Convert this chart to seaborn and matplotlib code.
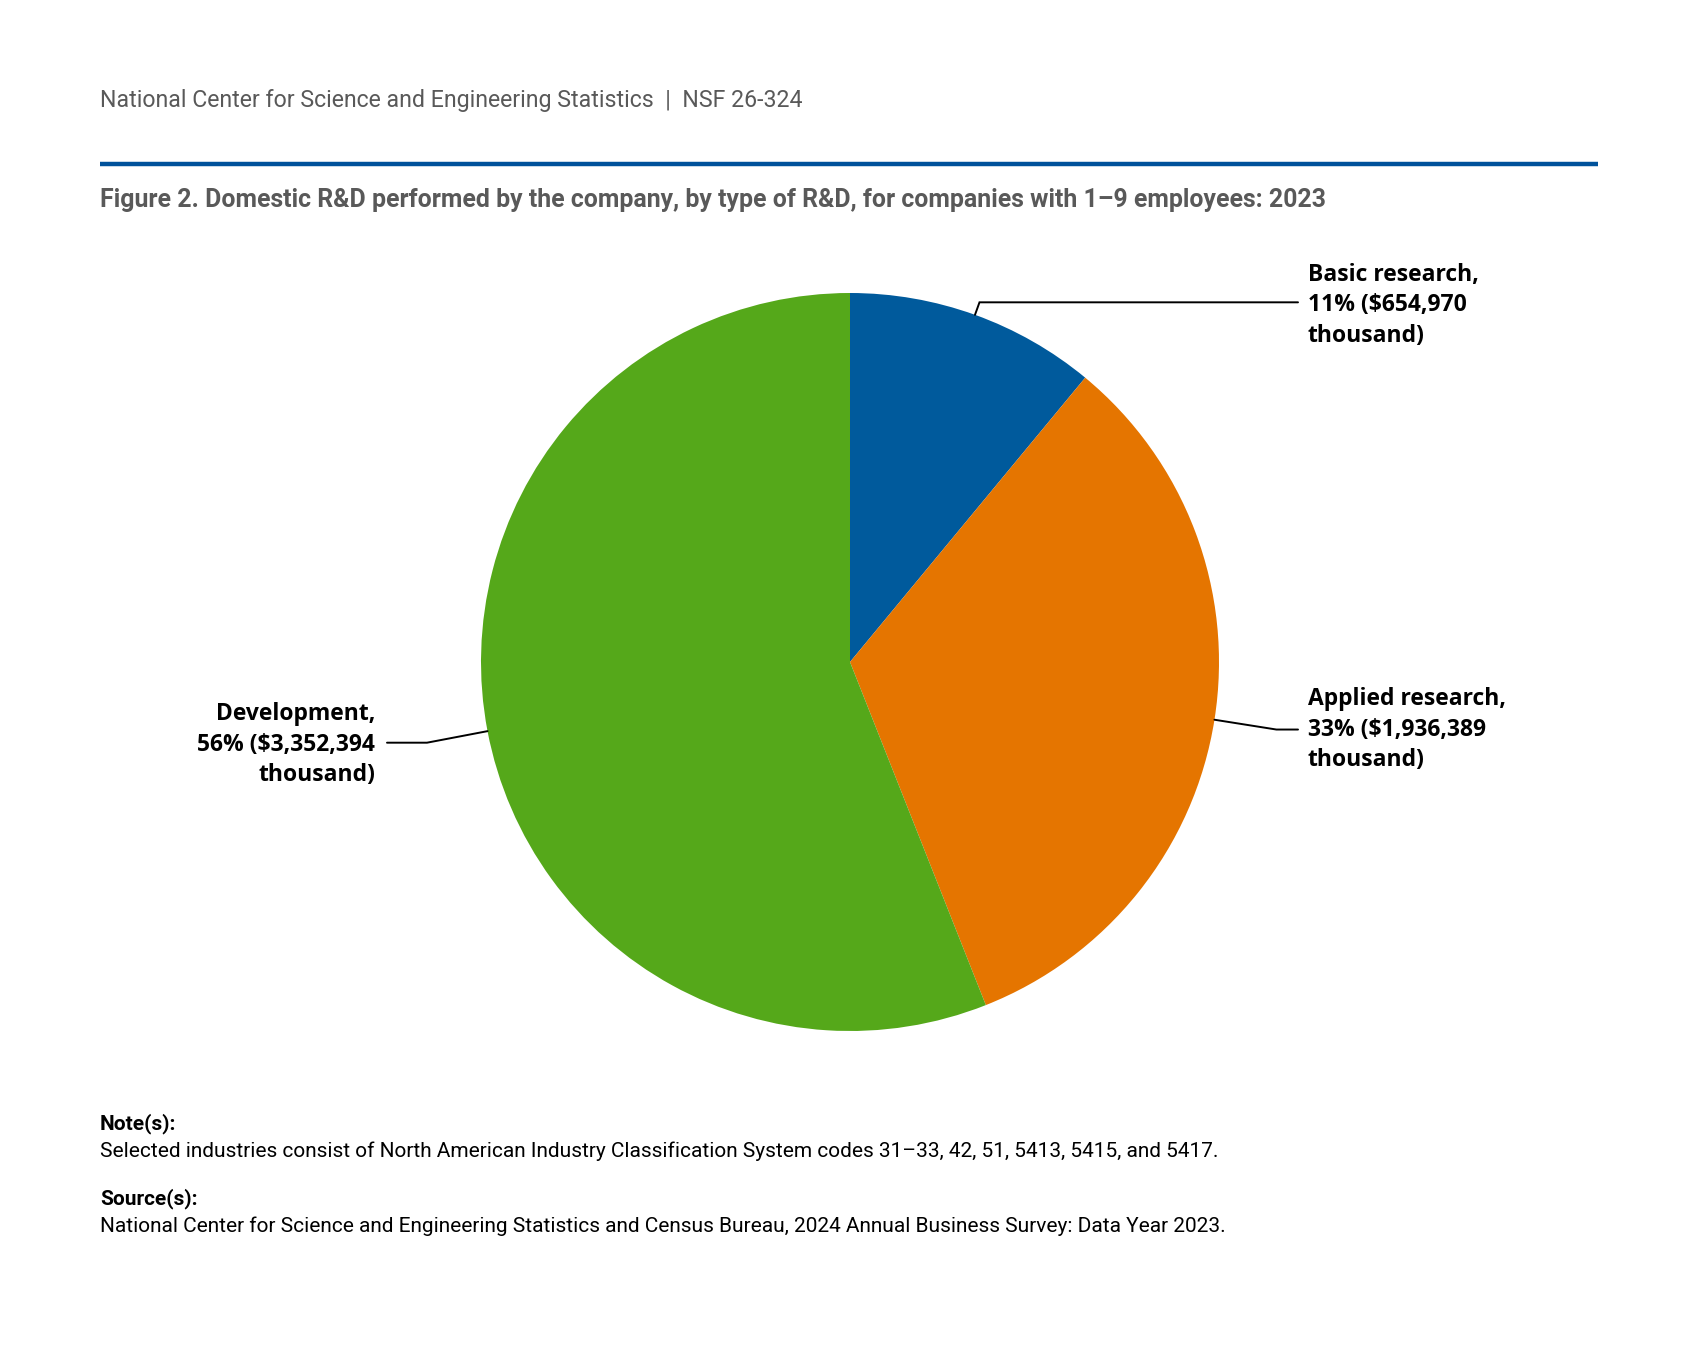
import numpy as np
import matplotlib
matplotlib.use("Agg")
import matplotlib.pyplot as plt
import seaborn as sns

# data
categories = ["Basic research", "Applied research", "Development"]
values = [654970, 1936389, 3352394]
percents = [11, 33, 56]
colors = ["#005A9C", "#E57500", "#55A81A"]

header = "National Center for Science and Engineering Statistics  |  NSF 26-324"
title = "Figure 2. Domestic R&D performed by the company, by type of R&D, for companies with 1\u20139 employees: 2023"
note = "Selected industries consist of North American Industry Classification System codes 31\u201333, 42, 51, 5413, 5415, and 5417."
source = "National Center for Science and Engineering Statistics and Census Bureau, 2024 Annual Business Survey: Data Year 2023."

sns.set_theme(style="white")
plt.rcParams['font.family'] = ['Roboto', 'DejaVu Sans']

W, H = 1699, 1347
fig = plt.figure(figsize=(W / 100, H / 100), dpi=100)
fig.patch.set_facecolor("white")

# pie centre / radius in pixels
cx, cy, R = 850, 662, 369
ax = fig.add_axes([0, 0, 1, 1])

# wedges follow the rounded shares shown in the labels
wedges, _ = ax.pie(percents, colors=colors, startangle=90, counterclock=False,
                   radius=1, center=(0, 0),
                   wedgeprops=dict(edgecolor="none", linewidth=0))
ax.set_xlim(-cx / R, (W - cx) / R)
ax.set_ylim(-(H - cy) / R, cy / R)
ax.set_aspect("equal")
ax.axis("off")


def fx(px):
    return px / W


def fy(py):
    return 1 - py / H


# header and title
fig.text(fx(100), fy(100), header, fontsize=16.7, color="#595959", va="center", ha="left")
fig.add_artist(plt.Line2D([fx(100), fx(1598)], [fy(164), fy(164)], color="#00529B",
                          lw=3.2, solid_capstyle="butt"))
fig.text(fx(100), fy(200), title, fontsize=17.95, color="#595959", fontweight="bold",
         va="center", ha="left")

# labels with leader lines
label_font = ['Open Sans', 'DejaVu Sans']
label_text = [
    "%s,\n%d%% ($%s\nthousand)" % (c, p, format(v, ","))
    for c, p, v in zip(categories, percents, values)
]
# (elbow radius, horizontal end x in px, text x in px, ha, text y shift in px)
layout = [
    (1.036, 1298, 1308, "left", 3),
    (1.17, 1298, 1308, "left", 0),
    (1.167, 387, 375, "right", 2),
]
for w, txt, (er, hx, tx, ha, dy) in zip(wedges, label_text, layout):
    ang = np.deg2rad((w.theta1 + w.theta2) / 2)
    x0, y0 = np.cos(ang), np.sin(ang)
    x1, y1 = er * x0, er * y0
    x2 = (hx - cx) / R
    ax.plot([x0, x1, x2], [y0, y1, y1], color="black", lw=1.4, solid_joinstyle="miter")
    ax.text((tx - cx) / R, y1 - dy / R, txt, ha=ha, va="center", fontsize=16.5,
            fontweight="bold", family=label_font, linespacing=1.37, color="black",
            multialignment=ha)

# notes
fig.text(fx(100), fy(1124), "Note(s):", fontsize=15, fontweight="bold", color="black", va="center")
fig.text(fx(100), fy(1151), note, fontsize=15, color="black", va="center")
fig.text(fx(100), fy(1199), "Source(s):", fontsize=15, fontweight="bold", color="black", va="center")
fig.text(fx(100), fy(1226), source, fontsize=15, color="black", va="center")

fig.savefig("out.png", dpi=100, facecolor="white")
